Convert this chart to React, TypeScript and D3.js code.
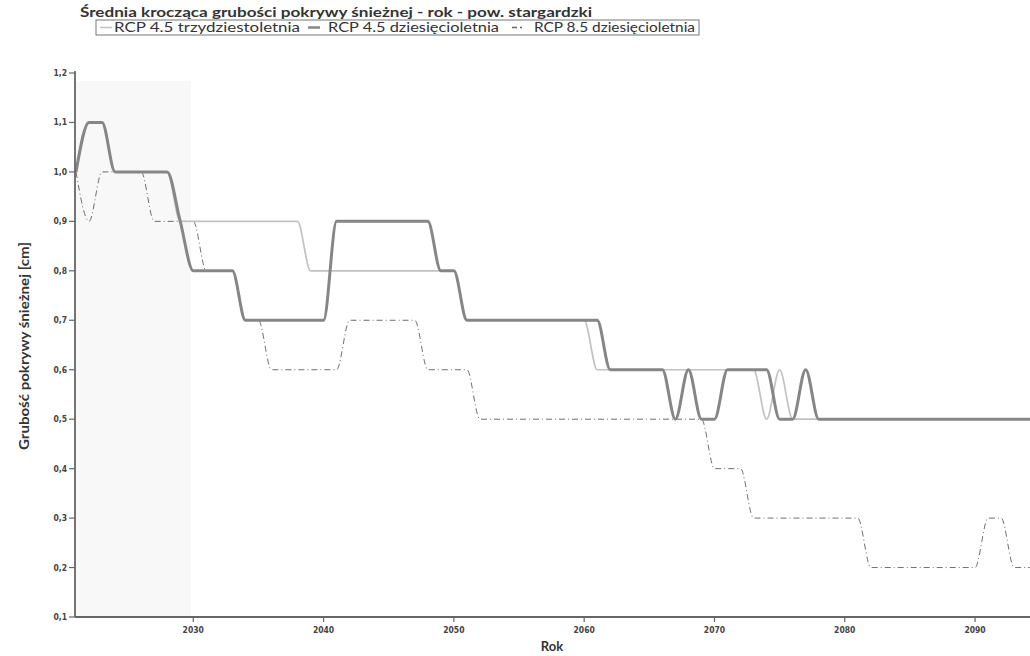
import * as d3 from 'd3';
import React from 'react';

// lata i wartości (cm)
const years = [
  2021, 2022, 2023, 2024, 2025, 2026, 2027, 2028, 2029, 2030,
  2031, 2032, 2033, 2034, 2035, 2036, 2037, 2038, 2039, 2040,
  2041, 2042, 2043, 2044, 2045, 2046, 2047, 2048, 2049, 2050,
  2051, 2052, 2053, 2054, 2055, 2056, 2057, 2058, 2059, 2060,
  2061, 2062, 2063, 2064, 2065, 2066, 2067, 2068, 2069, 2070,
  2071, 2072, 2073, 2074, 2075, 2076, 2077, 2078, 2079, 2080,
  2081, 2082, 2083, 2084, 2085, 2086, 2087, 2088, 2089, 2090,
  2091, 2092, 2093, 2094, 2095,
];

const rcp45_30 = [
  1.0, 1.1, 1.1, 1.0, 1.0, 1.0, 1.0, 1.0, 0.9, 0.9,
  0.9, 0.9, 0.9, 0.9, 0.9, 0.9, 0.9, 0.9, 0.8, 0.8,
  0.8, 0.8, 0.8, 0.8, 0.8, 0.8, 0.8, 0.8, 0.8, 0.8,
  0.7, 0.7, 0.7, 0.7, 0.7, 0.7, 0.7, 0.7, 0.7, 0.7,
  0.6, 0.6, 0.6, 0.6, 0.6, 0.6, 0.6, 0.6, 0.6, 0.6,
  0.6, 0.6, 0.6, 0.5, 0.6, 0.5, 0.5, 0.5, 0.5, 0.5,
  0.5, 0.5, 0.5, 0.5, 0.5, 0.5, 0.5, 0.5, 0.5, 0.5,
  0.5, 0.5, 0.5, 0.5, 0.5,
];

const rcp45_10 = [
  1.0, 1.1, 1.1, 1.0, 1.0, 1.0, 1.0, 1.0, 0.9, 0.8,
  0.8, 0.8, 0.8, 0.7, 0.7, 0.7, 0.7, 0.7, 0.7, 0.7,
  0.9, 0.9, 0.9, 0.9, 0.9, 0.9, 0.9, 0.9, 0.8, 0.8,
  0.7, 0.7, 0.7, 0.7, 0.7, 0.7, 0.7, 0.7, 0.7, 0.7,
  0.7, 0.6, 0.6, 0.6, 0.6, 0.6, 0.5, 0.6, 0.5, 0.5,
  0.6, 0.6, 0.6, 0.6, 0.5, 0.5, 0.6, 0.5, 0.5, 0.5,
  0.5, 0.5, 0.5, 0.5, 0.5, 0.5, 0.5, 0.5, 0.5, 0.5,
  0.5, 0.5, 0.5, 0.5, 0.5,
];

const rcp85_10 = [
  1.0, 0.9, 1.0, 1.0, 1.0, 1.0, 0.9, 0.9, 0.9, 0.9,
  0.8, 0.8, 0.8, 0.7, 0.7, 0.6, 0.6, 0.6, 0.6, 0.6,
  0.6, 0.7, 0.7, 0.7, 0.7, 0.7, 0.7, 0.6, 0.6, 0.6,
  0.6, 0.5, 0.5, 0.5, 0.5, 0.5, 0.5, 0.5, 0.5, 0.5,
  0.5, 0.5, 0.5, 0.5, 0.5, 0.5, 0.5, 0.5, 0.5, 0.4,
  0.4, 0.4, 0.3, 0.3, 0.3, 0.3, 0.3, 0.3, 0.3, 0.3,
  0.3, 0.2, 0.2, 0.2, 0.2, 0.2, 0.2, 0.2, 0.2, 0.2,
  0.3, 0.3, 0.2, 0.2, 0.2,
];

const xTicks = [2030, 2040, 2050, 2060, 2070, 2080, 2090];
const yTicks = [0.1, 0.2, 0.3, 0.4, 0.5, 0.6, 0.7, 0.8, 0.9, 1.0, 1.1, 1.2];

const seriesNames = ['RCP 4.5 trzydziestoletnia', 'RCP 4.5 dziesięcioletnia', 'RCP 8.5 dziesięcioletnia'];

const W = 1030;
const H = 656;
const left = 75;
const bottom = 617;
const top = 73;

const sans = 'Lato, "Open Sans", sans-serif';
const narrow = '"DejaVu Sans Condensed", "Liberation Sans Narrow", Lato, sans-serif';

export default function App() {
  const x = d3.scaleLinear().domain([2021, 2095]).range([76, 76 + 74 * 13.03]);
  const y = d3.scaleLinear().domain([0.1, 1.2]).range([bottom, top]);

  const line = (vals: number[]) =>
    d3.line<number>()
      .x((_, i) => x(years[i]))
      .y((v) => y(v))
      .curve(d3.curveMonotoneX)(vals) || '';

  const styles = [
    { stroke: '#c2c2c2', width: 1.7, dash: undefined as string | undefined },
    { stroke: '#868686', width: 3, dash: undefined as string | undefined },
    { stroke: '#4a4a4a', width: 0.8, dash: '6,3,1,3' },
  ];

  // legenda: pozycja próbki linii, tekst i jego długość
  const legendItems = [
    { sx: 100, tx: 114, tw: 186 },
    { sx: 308, tx: 328, tw: 171 },
    { sx: 512, tx: 534, tw: 161 },
  ];

  return (
    <div style={{ position: 'absolute', left: 0, top: 0 }}>
      <svg width={W} height={H} style={{ display: 'block', background: '#fff' }}>
        <rect x={left} y={top + 8} width={116} height={bottom - top - 8} fill="#f8f8f8" />

        {/* tytuł */}
        <text x={80} y={17} fontFamily={sans} fontWeight="bold" fontSize={13.5} fill="#333"
          textLength={512} lengthAdjust="spacingAndGlyphs">
          Średnia krocząca grubości pokrywy śnieżnej - rok - pow. stargardzki
        </text>

        {/* legenda */}
        <rect x={96} y={20} width={603} height={15} fill="#fff" stroke="#777" strokeWidth={1} />
        {legendItems.map((it, i) => (
          <g key={i}>
            <line x1={it.sx} x2={it.sx + (i === 2 ? 10 : 12)} y1={27.5} y2={27.5}
              stroke={i === 2 ? '#666' : styles[i].stroke} strokeWidth={i === 1 ? 2.5 : 1.5}
              strokeDasharray={i === 2 ? '5,3' : undefined} />
            <text x={it.tx} y={32} fontFamily={sans} fontSize={12.5} fill="#333"
              textLength={it.tw} lengthAdjust="spacingAndGlyphs">{seriesNames[i]}</text>
          </g>
        ))}

        {/* linie */}
        <g>
          <path d={line(rcp85_10)} fill="none" stroke={styles[2].stroke} strokeWidth={styles[2].width}
            strokeDasharray={styles[2].dash} />
          <path d={line(rcp45_30)} fill="none" stroke={styles[0].stroke} strokeWidth={styles[0].width} />
          <path d={line(rcp45_10)} fill="none" stroke={styles[1].stroke} strokeWidth={styles[1].width} />
        </g>

        {/* oś Y */}
        <line x1={left} x2={left} y1={top - 2} y2={bottom} stroke="#666" strokeWidth={1.8} />
        {yTicks.map((t) => (
          <g key={t}>
            <line x1={left - 6} x2={left} y1={y(t)} y2={y(t)} stroke="#666" strokeWidth={1.2} />
            <text x={left - 8} y={y(t) + 3} textAnchor="end" fontFamily={narrow} fontWeight="bold"
              fontSize={8.5} fill="#444">{d3.format('.1f')(t).replace('.', ',')}</text>
          </g>
        ))}

        {/* oś X */}
        <line x1={left} x2={W} y1={bottom} y2={bottom} stroke="#666" strokeWidth={1.8} />
        {xTicks.map((t) => (
          <g key={t}>
            <line x1={x(t)} x2={x(t)} y1={bottom} y2={bottom + 5} stroke="#666" strokeWidth={1.2} />
            <text x={x(t)} y={bottom + 16} textAnchor="middle" fontFamily={narrow} fontWeight="bold"
              fontSize={8.5} fill="#444">{t}</text>
          </g>
        ))}

        {/* opisy osi */}
        <text transform={`translate(29,${(top + bottom) / 2 + 1}) rotate(-90)`} textAnchor="middle"
          fontFamily={sans} fontWeight="bold" fontSize={13} fill="#333"
          textLength={208} lengthAdjust="spacingAndGlyphs">
          Grubość pokrywy śnieżnej [cm]
        </text>
        <text x={552} y={651} textAnchor="middle" fontFamily={sans} fontWeight="bold" fontSize={13}
          fill="#333">Rok</text>
      </svg>
    </div>
  );
}
